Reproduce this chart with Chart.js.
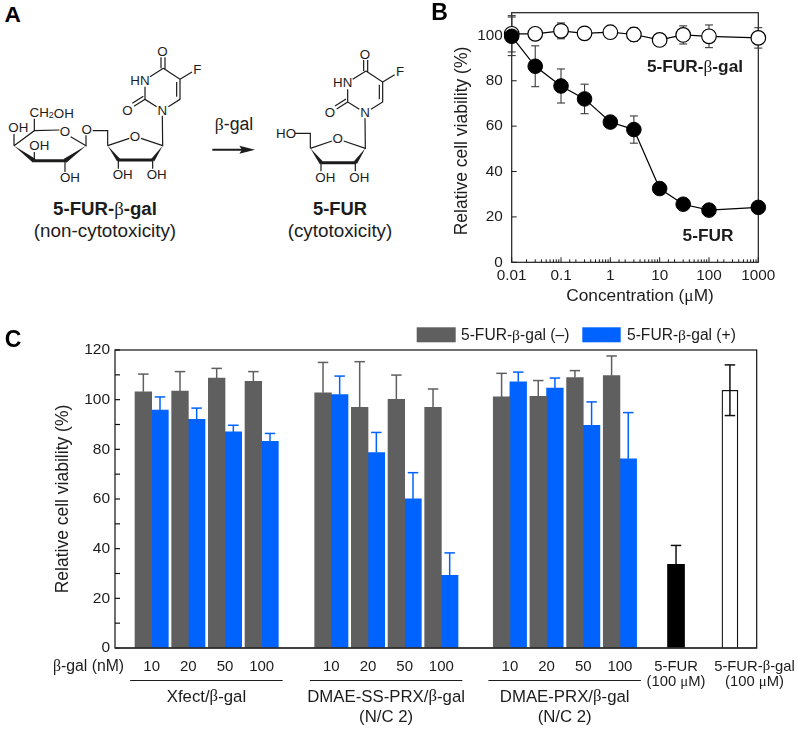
<!DOCTYPE html>
<html>
<head>
<meta charset="utf-8">
<style>
  html, body { margin: 0; padding: 0; background: #fff; }
  body { position: relative; width: 798px; height: 729px; overflow: hidden; }
  canvas { position: absolute; }
  #panelA { position: absolute; left: 0; top: 0; }
  #panelA text { font-family: "Liberation Sans", sans-serif; fill: #1c1c1c; text-anchor: middle; dominant-baseline: central; font-size: 40px; }
  #panelA .bond { stroke: #1c1c1c; stroke-width: 3.6; fill: none; }
  #panelA .heavy { stroke: #1c1c1c; stroke-width: 9; fill: none; }
  #panelA .fill { fill: #1c1c1c; stroke: none; }
  #panelA .gr { font-family: "Liberation Serif", serif; }
</style>
</head>
<body>
<!-- panel A: structures, coordinates are 3x reference pixels -->
<svg id="panelA" width="430" height="250" viewBox="0 0 1290 750">
  <text x="38" y="42" style="font-size:68px;font-weight:bold;fill:#000">A</text>
  <defs>
    <g id="nucleoside">
      <path class="bond" d="M483 172V205M495 172V208M490 205L540 238L540 298L505 320M530 246V290M470 320L435 298V260M450 230L490 205M435 298L402 319M430 289L397 310M540 238L576 216M487 347L488 437L423 415M388 415L323 437"/>
      <path class="fill" d="M323 437L351 484L360 476Z"/>
      <path class="heavy" d="M353 480H460"/>
      <path class="fill" d="M488 437L454 476L463 484Z"/>
      <path class="bond" d="M355 480V506M458 480V506"/>
      <text x="487" y="155">O</text>
      <text x="592" y="208">F</text>
      <text x="420" y="240">HN</text>
      <text x="382" y="330">O</text>
      <text x="487" y="330">N</text>
      <text x="405" y="408">O</text>
      <text x="368" y="524">OH</text>
      <text x="470" y="524">OH</text>
    </g>
  </defs>
  <use href="#nucleoside"/>
  <path class="bond" d="M323 437V392H278M258 406V437L212 410M178 390L103 392L42 437M103 392V356M42 437V402M103 482V456M195 482V516"/>
  <path class="fill" d="M42 437L99 488L107 477Z"/>
  <path class="heavy" d="M101 482H197"/>
  <path class="fill" d="M258 437L191 477L199 488Z"/>
  <text x="260" y="388">O</text>
  <text x="195" y="394">O</text>
  <text x="155" y="338">CH<tspan dy="8" style="font-size:27px">2</tspan><tspan dy="-8">OH</tspan></text>
  <text x="55" y="382">OH</text>
  <text x="118" y="435">OH</text>
  <text x="210" y="533">OH</text>

  <use href="#nucleoside" transform="translate(608,8)"/>
  <path class="bond" d="M931 445V400H885"/>
  <text x="858" y="400">HO</text>

  <path class="bond" d="M637 449H735" style="stroke-width:6"/>
  <path class="fill" d="M765 449L718 437L726 449L718 461Z"/>
  <text x="702" y="373" style="font-size:53px"><tspan class="gr">β</tspan>-gal</text>

  <text x="315" y="625" style="font-size:56px;font-weight:bold">5-FUR-<tspan class="gr" style="font-weight:normal">β</tspan>-gal</text>
  <text x="315" y="690" style="font-size:56.5px">(non-cytotoxicity)</text>
  <text x="1020" y="625" style="font-size:55px;font-weight:bold">5-FUR</text>
  <text x="1020" y="690" style="font-size:56.5px">(cytotoxicity)</text>
</svg>

<canvas id="chartB" width="368" height="330" style="left:430px;top:-20px"></canvas>
<canvas id="chartC" width="798" height="409" style="left:0;top:320px"></canvas>

<script src="https://cdn.jsdelivr.net/npm/chart.js@4"></script>
<script>
// panel B values
const concentrations = [0.01, 0.03, 0.1, 0.3, 1, 3, 10, 30, 100, 1000];
const furViability = [99.6, 86.4, 77.7, 72, 61.8, 58.5, 32.5, 25.6, 23, 24.2];
const furError = [8.5, 9, 7.5, 6.5, 2, 6, 1, 1, 1, 1];
const galViability = [100.7, 100.7, 102, 100.9, 101.4, 100.4, 98, 100.2, 99.6, 98.9];
const galError = [8, 1, 3.5, 1.5, 1.5, 3, 1.5, 4, 5, 4.5];

// panel C values
const doseLabels = ['10', '20', '50', '100'];
const groupLabels = ['Xfect/β-gal', 'DMAE-SS-PRX/β-gal', 'DMAE-PRX/β-gal'];
const withoutGal = [103.2, 103.5, 108.7, 107.4, 102.8, 96.9, 100.1, 96.9, 101.1, 101.3, 108.9, 109.7];
const withoutGalError = [7.1, 7.8, 3.9, 3.9, 12.2, 18.4, 9.8, 7.4, 9.5, 6.4, 2.8, 7.9];
const withGal = [95.8, 92.1, 87, 83.2, 102, 78.7, 60.1, 29.3, 107.2, 104.7, 89.7, 76.2];
const withGalError = [5.3, 4.5, 2.7, 3.2, 7.5, 8.1, 10.5, 9, 3.9, 4, 9.4, 18.6];
const controlFur = [33.7];
const controlFurError = [7.6];
const controlGal = [103.8];
const controlGalError = [10.2];

const SANS = '"Liberation Sans", sans-serif';
const SERIF = '"Liberation Serif", serif';
const INK = '#1c1c1c';
const GRAY = '#5f5f5f';
const BLUE = '#0062ff';

Chart.defaults.font.family = SANS;
Chart.defaults.color = INK;
Chart.defaults.animation = false;

// sans text with the greek letters in a serif, like the original figure
function drawText(ctx, str, x, y, size, opts) {
    opts = opts || {};
    const weight = opts.bold ? 'bold ' : '';
    const parts = str.split(/([βμ])/).filter(p => p.length);
    const fontFor = p => (p === 'β' || p === 'μ') ? size + 'px ' + SERIF : weight + size + 'px ' + SANS;
    let total = 0;
    parts.forEach(p => { ctx.font = fontFor(p); total += ctx.measureText(p).width; });
    let cx = opts.left ? x : x - total / 2;
    ctx.save();
    ctx.fillStyle = opts.color || INK;
    ctx.textAlign = 'left';
    ctx.textBaseline = 'middle';
    parts.forEach(p => {
        ctx.font = fontFor(p);
        ctx.fillText(p, cx, y);
        cx += ctx.measureText(p).width;
    });
    ctx.restore();
}

function line(ctx, x1, y1, x2, y2) {
    ctx.beginPath();
    ctx.moveTo(x1, y1);
    ctx.lineTo(x2, y2);
    ctx.stroke();
}

function drawErrorBars(chart, capWidth, lineWidth) {
    const ctx = chart.ctx;
    const y = chart.scales.y;
    chart.data.datasets.forEach((ds, i) => {
        if (!ds.errors) return;
        chart.getDatasetMeta(i).data.forEach((el, j) => {
            const v = ds.data[j].y;
            const top = y.getPixelForValue(v + ds.errors[j]);
            const bottom = y.getPixelForValue(ds.bothWays ? v - ds.errors[j] : v);
            ctx.save();
            ctx.strokeStyle = ds.errorColor;
            ctx.lineWidth = lineWidth;
            line(ctx, el.x, top, el.x, bottom);
            line(ctx, el.x - capWidth / 2, top, el.x + capWidth / 2, top);
            if (ds.bothWays) line(ctx, el.x - capWidth / 2, bottom, el.x + capWidth / 2, bottom);
            ctx.restore();
        });
    });
}

const isDecade = v => Math.abs(Math.log10(v) - Math.round(Math.log10(v))) < 1e-6;

// Panel B, canvas sits 20px above the page top
const panelBPlugin = {
    id: 'panelB',
    beforeDatasetsDraw(chart) {
        drawErrorBars(chart, 8, 1.1);
    },
    beforeDraw(chart) {
        const ctx = chart.ctx;
        const a = chart.chartArea;
        ctx.save();
        ctx.strokeStyle = INK;
        ctx.lineWidth = 1;
        chart.scales.x.ticks.forEach(t => {
            const px = chart.scales.x.getPixelForValue(t.value);
            line(ctx, px, a.bottom, px, a.bottom - (isDecade(t.value) ? 5 : 3));
        });
        chart.scales.y.ticks.forEach(t => {
            const py = chart.scales.y.getPixelForValue(t.value);
            line(ctx, a.left, py, a.left + 5, py);
        });
        ctx.lineWidth = 1.2;
        ctx.strokeRect(a.left, a.top, a.right - a.left, a.bottom - a.top);
        ctx.restore();
    },
    afterDraw(chart) {
        const ctx = chart.ctx;
        drawText(ctx, 'B', 9.5, 34, 23, { bold: true, color: '#000' });
        drawText(ctx, '5-FUR-β-gal', 265, 87, 17.3, { bold: true });
        drawText(ctx, '5-FUR', 278, 256, 17.3, { bold: true });
        drawText(ctx, 'Concentration (μM)', 210, 316, 17.3);
        ctx.save();
        ctx.translate(32, 161);
        ctx.rotate(-Math.PI / 2);
        drawText(ctx, 'Relative cell viability (%)', 0, 0, 17.5);
        ctx.restore();
    }
};

new Chart(document.getElementById('chartB'), {
    type: 'line',
    data: {
        datasets: [
            {
                label: '5-FUR',
                data: concentrations.map((c, i) => ({ x: c, y: furViability[i] })),
                errors: furError, bothWays: true, errorColor: '#3a3a3a',
                borderColor: '#000', borderWidth: 1.2,
                pointBackgroundColor: '#000', pointBorderColor: '#000',
                pointRadius: 7.3, pointBorderWidth: 1, tension: 0, clip: false
            },
            {
                label: '5-FUR-β-gal',
                data: concentrations.map((c, i) => ({ x: c, y: galViability[i] })),
                errors: galError, bothWays: true, errorColor: '#3a3a3a',
                borderColor: '#000', borderWidth: 1.2,
                pointBackgroundColor: '#fff', pointBorderColor: '#000',
                pointRadius: 7.3, pointBorderWidth: 1.2, tension: 0, clip: false
            }
        ]
    },
    options: {
        responsive: false,
        layout: { padding: { top: 32.7, right: 39.7, left: 0, bottom: 0 } },
        plugins: { legend: { display: false }, tooltip: { enabled: false } },
        scales: {
            x: {
                type: 'logarithmic', min: 0.01, max: 1000,
                grid: { display: false, drawTicks: false }, border: { display: false },
                afterFit(scale) { scale.height = 47.7; },
                ticks: {
                    autoSkip: false, maxRotation: 0, padding: 4,
                    font: { size: 15.3 },
                    callback: v => isDecade(v) ? String(Number(v.toPrecision(1))) : ''
                }
            },
            y: {
                min: 0, max: 110,
                grid: { display: false, drawTicks: false }, border: { display: false },
                afterFit(scale) { scale.width = 81.7; },
                ticks: { stepSize: 20, includeBounds: false, padding: 9, font: { size: 15.3 } }
            }
        }
    },
    plugins: [panelBPlugin]
});

// Panel C: x axis runs in units of one dose pair
const groupStart = [1, 5.9, 10.77];
const pairOffset = 0.227;
const furBarPos = 15.3;
const galBarPos = 16.77;
const pairCentre = i => groupStart[Math.floor(i / 4)] + (i % 4);

function barSeries(values, shift) {
    return values.map((v, i) => ({ x: pairCentre(i) + shift, y: v }));
}

const panelCPlugin = {
    id: 'panelC',
    afterDatasetsDraw(chart) {
        const ctx = chart.ctx;
        const a = chart.chartArea;
        drawErrorBars(chart, 10.5, 1.5);
        ctx.save();
        ctx.strokeStyle = '#111';
        ctx.lineWidth = 1.2;
        chart.scales.y.ticks.forEach(t => {
            const py = chart.scales.y.getPixelForValue(t.value);
            line(ctx, a.left, py, a.left + 5, py);
        });
        ctx.strokeRect(a.left, a.top, a.right - a.left, a.bottom - a.top);
        ctx.strokeStyle = '#333';
        ctx.lineWidth = 1.6;
        line(ctx, a.left, a.bottom, a.right, a.bottom);
        ctx.restore();
    },
    afterDraw(chart) {
        const ctx = chart.ctx;
        const x = chart.scales.x;
        drawText(ctx, 'C', 13, 21, 23, { bold: true, color: '#000' });

        // legend, swatches take the dataset colours
        const ds = chart.data.datasets;
        ctx.fillStyle = ds[0].backgroundColor;
        ctx.fillRect(416.7, 7.3, 39, 15);
        drawText(ctx, ds[0].label, 461, 16, 15.6, { left: true });
        ctx.fillStyle = ds[1].backgroundColor;
        ctx.fillRect(582.3, 7.3, 38.4, 15);
        drawText(ctx, ds[1].label, 627, 16, 15.6, { left: true });

        // x labels
        drawText(ctx, 'β-gal (nM)', 88.5, 347, 15.8);
        groupLabels.forEach((name, g) => {
            doseLabels.forEach((d, k) => {
                drawText(ctx, d, x.getPixelForValue(groupStart[g] + k), 347, 15);
            });
            const left = x.getPixelForValue(groupStart[g]) - 21.5;
            const right = x.getPixelForValue(groupStart[g] + 3) + 21;
            ctx.save();
            ctx.strokeStyle = INK;
            ctx.lineWidth = 1;
            line(ctx, left, 360.5, right, 360.5);
            ctx.restore();
            drawText(ctx, name, (left + right) / 2, 377, 16.8);
            if (g > 0) drawText(ctx, '(N/C 2)', (left + right) / 2, 397, 16.8);
        });
        const furX = x.getPixelForValue(furBarPos);
        drawText(ctx, '5-FUR', furX, 346.5, 14.8);
        drawText(ctx, '(100 μM)', furX, 362, 14.8);
        drawText(ctx, '5-FUR-β-gal', 754.5, 346.5, 14.8);
        drawText(ctx, '(100 μM)', 754.5, 362, 14.8);
    }
};

new Chart(document.getElementById('chartC'), {
    type: 'bar',
    data: {
        datasets: [
            {
                label: '5-FUR-β-gal (–)', data: barSeries(withoutGal, -pairOffset),
                errors: withoutGalError, errorColor: GRAY,
                backgroundColor: GRAY, barThickness: 16.67, grouped: false
            },
            {
                label: '5-FUR-β-gal (+)', data: barSeries(withGal, pairOffset),
                errors: withGalError, errorColor: BLUE,
                backgroundColor: BLUE, barThickness: 16.67, grouped: false
            },
            {
                label: '5-FUR (100 μM)', data: [{ x: furBarPos, y: controlFur[0] }],
                errors: controlFurError, errorColor: '#111',
                backgroundColor: '#000', barThickness: 17, grouped: false
            },
            {
                label: '5-FUR-β-gal (100 μM)', data: [{ x: galBarPos, y: controlGal[0] }],
                errors: controlGalError, bothWays: true, errorColor: '#111',
                backgroundColor: '#fff', borderColor: '#111', borderWidth: 1.3,
                barThickness: 16, grouped: false
            }
        ]
    },
    options: {
        responsive: false,
        layout: { padding: { top: 30, right: 41.3, left: 0, bottom: 81 } },
        plugins: { legend: { display: false }, tooltip: { enabled: false } },
        scales: {
            x: { type: 'linear', min: 0, max: 17.5, offset: false, display: false },
            y: {
                min: 0, max: 120,
                grid: { display: false, drawTicks: false }, border: { display: false },
                afterFit(scale) { scale.width = 115; },
                ticks: {
                    stepSize: 10, padding: 5, font: { size: 15.5 }, autoSkip: false,
                    callback: v => v % 20 === 0 ? String(v) : ''
                },
                title: { display: true, text: 'Relative cell viability (%)', font: { size: 17.5 }, padding: { top: 52.5, bottom: 0 } }
            }
        }
    },
    plugins: [panelCPlugin]
});
</script>
</body>
</html>
